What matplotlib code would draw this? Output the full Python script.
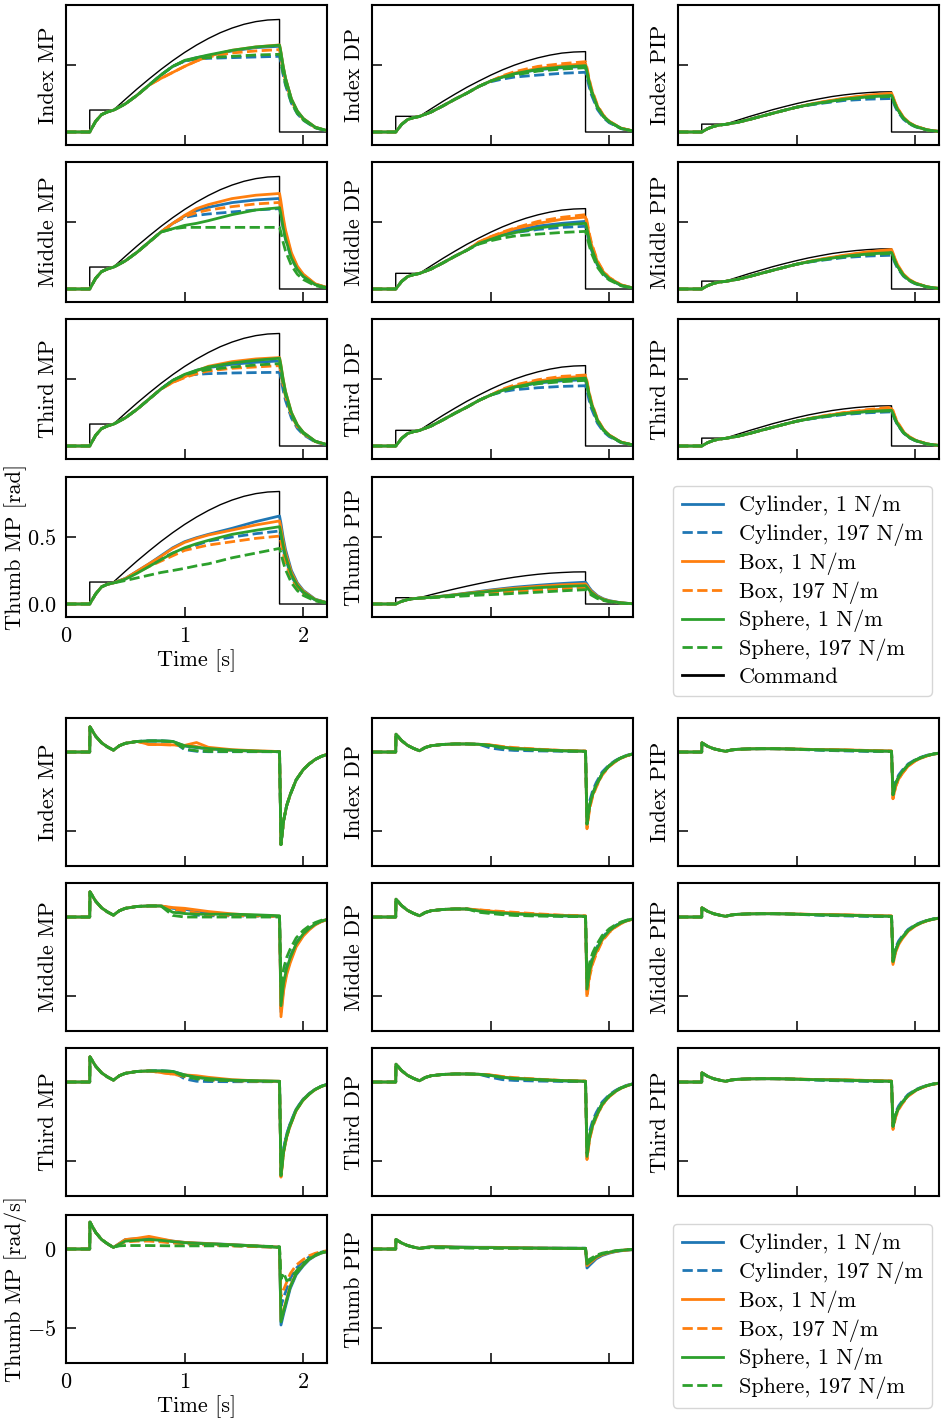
import matplotlib
matplotlib.use("Agg")
import matplotlib.pyplot as plt
from matplotlib.lines import Line2D

plt.rcParams["font.family"] = "serif"
plt.rcParams["font.serif"] = ["cmr10"]
plt.rcParams["mathtext.fontset"] = "cm"
plt.rcParams["axes.formatter.use_mathtext"] = True
plt.rcParams["font.size"] = 16
plt.rcParams["axes.linewidth"] = 1.5

# ---------------------------------------------------------------
# data
series_labels = ["Cylinder, 1 N/m", "Cylinder, 197 N/m", "Box, 1 N/m",
                 "Box, 197 N/m", "Sphere, 1 N/m", "Sphere, 197 N/m"]

# command signal
t_cmd = [0, 0.2, 0.2, 0.4, 0.5, 0.6, 0.7, 0.8, 0.9, 1.0, 1.1, 1.2, 1.3, 1.4, 1.5, 1.6, 1.7, 1.8, 1.8, 2.2]
cmd_mp = [0, 0, .164, .164, .244, .322, .396, .467, .533, .594, .649, .698, .741, .776, .804, .824, .836, .84, 0, 0]
cmd_dp = [0, 0, .117, .117, .174, .230, .283, .334, .380, .424, .464, .499, .529, .554, .574, .589, .597, .60, 0, 0]
cmd_pip = [0, 0, .059, .059, .087, .115, .141, .167, .190, .212, .232, .249, .265, .277, .287, .294, .299, .30, 0, 0]
cmd_thumb_pip = [0, 0, .047, .047, .070, .092, .113, .133, .152, .170, .186, .200, .212, .222, .230, .235, .239, .24, 0, 0]

# joint positions [rad]
t_pos = [0, .2, .25, .3, .35, .4, .5, .6, .7, .8, .9, 1.0, 1.1, 1.2, 1.4, 1.6, 1.8,
         1.81, 1.83, 1.85, 1.9, 1.95, 2.0, 2.1, 2.2]

pre_mp = [0, 0, .08, .13, .15, .163, .21, .275, .35, .425, .49]
pre_dp = [0, 0, .057, .093, .107, .116, .15, .196, .245, .29, .34, .38]
pre_pip = [0, 0, .025, .042, .052, .057, .072, .093, .117, .14, .163, .185]
pre_thumb_mp = [0, 0, .075, .128, .148, .157]
pre_thumb_pip = [0, 0, .02, .033, .04, .044]

pos_index_mp = [
    pre_mp + [.53, .555, .57, .605, .63, .64, .595, .486, .397, .243, .154, .099, .035, .01],
    pre_mp + [.53, .545, .55, .555, .56, .565, .525, .429, .350, .215, .136, .088, .031, .008],
    [0, 0, .08, .13, .15, .163, .21, .275, .35, .40, .445, .49, .53, .565, .61, .635, .65,
     .605, .494, .403, .247, .156, .101, .036, .01],
    [0, 0, .08, .13, .15, .163, .21, .275, .35, .40, .445, .49, .53, .56, .59, .605, .615,
     .572, .467, .381, .234, .148, .095, .034, .009],
    pre_mp + [.535, .555, .575, .61, .635, .648, .603, .492, .402, .246, .156, .100, .036, .01],
    pre_mp + [.53, .55, .555, .565, .575, .58, .539, .441, .360, .220, .139, .090, .032, .009],
]
pos_middle_mp = [
    pre_mp[:10] + [.49, .545, .585, .61, .645, .665, .676, .629, .514, .419, .257, .162, .105, .037, .01],
    pre_mp[:10] + [.49, .535, .55, .56, .575, .59, .60, .558, .456, .372, .228, .144, .093, .033, .009],
    pre_mp[:10] + [.49, .55, .60, .63, .675, .70, .713, .663, .542, .442, .271, .171, .111, .039, .011],
    pre_mp[:10] + [.49, .54, .57, .59, .615, .635, .646, .601, .491, .401, .245, .155, .100, .036, .01],
    pre_mp[:10] + [.45, .475, .49, .51, .555, .59, .607, .565, .461, .376, .231, .146, .094, .033, .009],
    pre_mp[:10] + [.45, .46, .46, .46, .46, .46, .46, .428, .350, .285, .175, .110, .071, .025, .007],
]
pos_third_mp = [
    pre_mp + [.53, .565, .585, .61, .625, .635, .591, .483, .394, .241, .152, .098, .035, .01],
    pre_mp + [.525, .535, .54, .545, .548, .55, .512, .418, .341, .209, .132, .085, .030, .008],
    pre_mp[:10] + [.475, .515, .56, .595, .63, .65, .66, .614, .502, .409, .251, .158, .102, .036, .01],
    pre_mp[:10] + [.475, .51, .54, .56, .58, .59, .60, .558, .456, .372, .228, .144, .093, .033, .009],
    pre_mp + [.535, .565, .59, .62, .64, .655, .609, .498, .406, .249, .157, .102, .036, .01],
    pre_mp + [.53, .555, .57, .59, .605, .615, .572, .467, .381, .234, .148, .095, .034, .009],
]
pos_thumb_mp = [
    pre_thumb_mp + [.19, .245, .30, .36, .42, .465, .495, .52, .565, .615, .657,
                    .611, .499, .407, .250, .158, .102, .036, .01],
    pre_thumb_mp + [.19, .24, .29, .34, .38, .41, .44, .47, .50, .525, .545,
                    .507, .414, .338, .207, .131, .084, .030, .008],
    pre_thumb_mp + [.19, .245, .30, .355, .415, .46, .49, .515, .552, .59, .62,
                    .577, .471, .384, .236, .149, .096, .034, .009],
    pre_thumb_mp + [.185, .235, .28, .32, .36, .40, .42, .44, .465, .49, .507,
                    .472, .385, .314, .193, .122, .079, .028, .008],
    pre_thumb_mp + [.185, .23, .28, .33, .38, .42, .45, .475, .52, .55, .577,
                    .537, .439, .358, .219, .138, .089, .032, .009],
    pre_thumb_mp + [.175, .195, .215, .235, .25, .266, .285, .30, .345, .38, .415,
                    .386, .315, .257, .158, .10, .064, .023, .006],
]
pos_index_dp = [
    pre_dp + [.41, .435, .465, .48, .49, .456, .372, .304, .186, .118, .076, .027, .007],
    pre_dp[:11] + [.375, .395, .41, .425, .438, .446, .415, .339, .277, .169, .107, .069, .025, .007],
    pre_dp + [.415, .44, .475, .495, .51, .474, .388, .316, .194, .122, .079, .028, .008],
    pre_dp + [.42, .45, .49, .51, .525, .488, .399, .326, .20, .126, .081, .029, .008],
    pre_dp + [.41, .435, .468, .485, .495, .460, .376, .307, .188, .119, .077, .027, .007],
    pre_dp + [.405, .425, .455, .47, .48, .446, .365, .298, .182, .115, .074, .026, .007],
]
pos_middle_dp = [
    pre_dp[:10] + [.345, .38, .41, .435, .47, .49, .505, .470, .384, .313, .192, .121, .078, .028, .008],
    pre_dp[:10] + [.345, .375, .40, .42, .445, .46, .468, .435, .356, .290, .178, .112, .073, .026, .007],
    pre_dp[:10] + [.35, .39, .42, .45, .49, .52, .537, .499, .408, .333, .204, .129, .083, .030, .008],
    pre_dp[:10] + [.35, .39, .425, .455, .505, .535, .555, .516, .422, .344, .211, .133, .086, .031, .008],
    pre_dp[:10] + [.34, .37, .40, .42, .455, .478, .49, .456, .372, .304, .186, .118, .076, .027, .007],
    pre_dp[:10] + [.335, .36, .38, .395, .41, .422, .43, .40, .327, .267, .163, .103, .067, .024, .006],
]
pos_third_dp = [
    pre_dp + [.415, .44, .47, .487, .495, .460, .376, .307, .188, .119, .077, .027, .007],
    pre_dp + [.405, .42, .435, .445, .45, .419, .342, .279, .171, .108, .070, .025, .007],
    pre_dp + [.42, .445, .485, .51, .52, .484, .395, .322, .198, .125, .081, .029, .008],
    pre_dp + [.425, .455, .495, .52, .53, .493, .403, .329, .201, .127, .082, .029, .008],
    pre_dp + [.415, .44, .475, .495, .507, .472, .385, .314, .193, .122, .079, .028, .008],
    pre_dp + [.41, .435, .465, .48, .49, .456, .372, .304, .186, .118, .076, .027, .007],
]
pos_index_pip = [
    pre_pip + [.203, .219, .246, .265, .275, .256, .209, .171, .105, .066, .043, .015, .004],
    pre_pip + [.20, .213, .235, .245, .25, .233, .19, .155, .095, .06, .039, .014, .004],
    pre_pip + [.205, .222, .252, .275, .29, .270, .220, .180, .110, .070, .045, .016, .004],
    pre_pip + [.204, .221, .25, .272, .285, .265, .217, .177, .108, .068, .044, .016, .004],
    pre_pip + [.203, .218, .245, .263, .273, .254, .207, .169, .104, .066, .042, .015, .004],
    pre_pip + [.202, .216, .242, .258, .265, .246, .201, .164, .101, .064, .041, .015, .004],
]
pos_middle_pip = [
    pre_pip + [.203, .219, .246, .264, .275, .256, .209, .171, .105, .066, .043, .015, .004],
    pre_pip + [.20, .213, .235, .246, .252, .234, .192, .156, .096, .06, .039, .014, .004],
    pre_pip + [.205, .222, .252, .278, .295, .274, .224, .183, .112, .071, .046, .016, .004],
    pre_pip + [.204, .221, .25, .272, .285, .265, .217, .177, .108, .068, .044, .016, .004],
    pre_pip + [.203, .218, .244, .262, .272, .253, .207, .169, .103, .065, .042, .015, .004],
    pre_pip + [.202, .216, .24, .256, .265, .246, .201, .164, .101, .064, .041, .015, .004],
]
pos_third_pip = [
    pre_pip + [.202, .217, .242, .258, .265, .246, .201, .164, .101, .064, .041, .015, .004],
    pre_pip + [.20, .213, .235, .248, .255, .237, .194, .158, .097, .061, .040, .014, .004],
    pre_pip + [.204, .22, .248, .268, .28, .260, .213, .174, .106, .067, .043, .015, .004],
    pre_pip + [.204, .221, .25, .272, .29, .270, .220, .180, .110, .070, .045, .016, .004],
    pre_pip + [.202, .217, .242, .258, .266, .247, .202, .165, .101, .064, .041, .015, .004],
    pre_pip + [.202, .216, .24, .255, .262, .244, .199, .162, .10, .063, .041, .014, .004],
]
pos_thumb_pip = [
    pre_thumb_pip + [.05, .06, .07, .082, .093, .105, .115, .125, .14, .153, .163,
                     .152, .124, .101, .062, .039, .025, .009, .002],
    pre_thumb_pip + [.049, .056, .063, .07, .077, .084, .09, .096, .107, .116, .125,
                     .116, .095, .078, .048, .03, .019, .007, .002],
    pre_thumb_pip + [.05, .059, .069, .08, .09, .10, .11, .118, .132, .143, .15,
                     .14, .114, .093, .057, .036, .023, .008, .002],
    pre_thumb_pip + [.049, .055, .062, .069, .076, .082, .088, .094, .105, .114, .122,
                     .113, .093, .076, .046, .029, .019, .007, .002],
    pre_thumb_pip + [.05, .058, .067, .077, .086, .095, .103, .11, .122, .131, .137,
                     .127, .104, .085, .052, .033, .021, .008, .002],
    pre_thumb_pip + [.047, .052, .056, .061, .066, .07, .074, .079, .088, .098, .107,
                     .10, .081, .066, .041, .026, .017, .006, .002],
]

# joint velocities [rad/s]
t_vel = [0, .2, .202, .25, .3, .35, .4, .45, .5, .6, .7, .8, .9, 1.0, 1.1, 1.2, 1.4, 1.6, 1.8,
         1.812, 1.835, 1.86, 1.89, 1.94, 2.0, 2.05, 2.1, 2.15, 2.2]

pre_vel_mp = [0, 0, 1.59, 1.0, .58, .32, .12, .40, .55, .67, .70, .70, .67]
pre_vel_dp = [0, 0, 1.13, .72, .42, .23, .08, .29, .40, .48, .51, .51, .49]
pre_vel_pip = [0, 0, .58, .36, .21, .12, .045, .13, .17, .2, .21, .21, .2]
pre_vel_thumb_mp = [0, 0, 1.7, 1.05, .6, .33, .1]
pre_vel_thumb_pip = [0, 0, .6, .38, .22, .12, .04]

vt_63 = [-6.3, -4.63, -3.65, -2.9, -1.89, -1.2, -0.81, -0.5, -0.3, -0.16]
vt_60 = [-6.0, -4.41, -3.48, -2.76, -1.8, -1.14, -0.77, -0.48, -0.29, -0.16]
vt_59 = [-5.9, -4.34, -3.42, -2.71, -1.77, -1.12, -0.76, -0.47, -0.28, -0.15]
vt_585 = [-5.85, -4.30, -3.39, -2.69, -1.76, -1.11, -0.75, -0.47, -0.28, -0.15]
vt_58 = [-5.8, -4.26, -3.36, -2.67, -1.74, -1.1, -0.74, -0.46, -0.28, -0.15]
vt_57 = [-5.7, -4.19, -3.31, -2.62, -1.71, -1.08, -0.73, -0.46, -0.27, -0.15]
vt_56 = [-5.6, -4.12, -3.25, -2.58, -1.68, -1.06, -0.72, -0.45, -0.27, -0.15]
vt_54 = [-5.4, -3.97, -3.13, -2.48, -1.62, -1.03, -0.69, -0.43, -0.26, -0.14]
vt_51 = [-5.1, -3.75, -2.96, -2.35, -1.53, -0.97, -0.65, -0.41, -0.24, -0.13]
vt_49 = [-4.9, -3.6, -2.84, -2.25, -1.47, -0.93, -0.63, -0.39, -0.24, -0.13]
vt_485 = [-4.85, -3.56, -2.81, -2.23, -1.46, -0.92, -0.62, -0.39, -0.23, -0.13]
vt_48 = [-4.8, -3.53, -2.78, -2.21, -1.44, -0.91, -0.61, -0.38, -0.23, -0.12]
vt_47 = [-4.7, -3.45, -2.73, -2.16, -1.41, -0.89, -0.6, -0.38, -0.23, -0.12]
vt_46 = [-4.6, -3.38, -2.67, -2.12, -1.38, -0.87, -0.59, -0.37, -0.22, -0.12]
vt_455 = [-4.55, -3.34, -2.64, -2.09, -1.37, -0.86, -0.58, -0.36, -0.22, -0.12]
vt_45 = [-4.5, -3.31, -2.61, -2.07, -1.35, -0.86, -0.58, -0.36, -0.22, -0.12]
vt_44 = [-4.4, -3.23, -2.55, -2.02, -1.32, -0.84, -0.56, -0.35, -0.21, -0.11]
vt_43 = [-4.3, -3.16, -2.49, -1.98, -1.29, -0.82, -0.55, -0.34, -0.21, -0.11]
vt_42 = [-4.2, -3.09, -2.44, -1.93, -1.26, -0.8, -0.54, -0.34, -0.2, -0.11]
vt_39 = [-3.9, -2.87, -2.26, -1.79, -1.17, -0.74, -0.5, -0.31, -0.19, -0.1]
vt_30 = [-3.0, -2.21, -1.74, -1.38, -0.9, -0.57, -0.38, -0.24, -0.14, -0.08]
vt_295 = [-2.95, -2.17, -1.71, -1.36, -0.89, -0.56, -0.38, -0.24, -0.14, -0.08]
vt_29 = [-2.9, -2.13, -1.68, -1.33, -0.87, -0.55, -0.37, -0.23, -0.14, -0.08]
vt_28 = [-2.8, -2.06, -1.62, -1.29, -0.84, -0.53, -0.36, -0.22, -0.13, -0.07]
vt_27 = [-2.7, -1.98, -1.57, -1.24, -0.81, -0.51, -0.35, -0.22, -0.13, -0.07]
vt_26 = [-2.6, -1.91, -1.51, -1.2, -0.78, -0.49, -0.33, -0.21, -0.12, -0.07]
vt_25 = [-2.5, -1.84, -1.45, -1.15, -0.75, -0.48, -0.32, -0.2, -0.12, -0.07]
vtt_48 = [-4.8, -4.08, -3.36, -2.5, -1.63, -1.06, -0.67, -0.43, -0.26, -0.17]
vtt_46 = [-4.6, -3.91, -3.22, -2.39, -1.56, -1.01, -0.64, -0.41, -0.25, -0.16]
vtt_45 = [-4.5, -3.83, -3.15, -2.34, -1.53, -0.99, -0.63, -0.41, -0.25, -0.16]
vtt_36 = [-3.6, -3.06, -2.52, -1.87, -1.22, -0.79, -0.5, -0.32, -0.2, -0.13]
vtt_30 = [-3.0, -2.55, -2.1, -1.56, -1.02, -0.66, -0.42, -0.27, -0.17, -0.11]
vtt_19 = [-1.9, -1.5, -2.0, -1.9, -1.4, -0.9, -0.6, -0.38, -0.22, -0.12]
vtt_12 = [-1.2, -1.02, -0.84, -0.62, -0.41, -0.26, -0.17, -0.11, -0.07, -0.04]
vtt_105 = [-1.05, -0.89, -0.74, -0.55, -0.36, -0.23, -0.15, -0.09, -0.06, -0.04]
vtt_095 = [-0.95, -0.81, -0.67, -0.49, -0.32, -0.21, -0.13, -0.09, -0.05, -0.03]
vtt_075 = [-0.75, -0.64, -0.53, -0.39, -0.26, -0.17, -0.11, -0.07, -0.04, -0.03]

vel_index_mp = [
    pre_vel_mp + [.38, .28, .2, .11, .05, .02] + vt_585,
    pre_vel_mp + [.15, .05, .02, .02, .02, .02] + vt_585,
    pre_vel_mp[:10] + [.48, .47, .45, .42, .6, .3, .15, .08, .03] + vt_585,
    pre_vel_mp[:10] + [.48, .47, .45, .42, .35, .2, .1, .05, .04] + vt_585,
    pre_vel_mp + [.4, .3, .22, .12, .06, .02] + vt_585,
    pre_vel_mp + [.2, .08, .04, .03, .03, .02] + vt_585,
]
vel_middle_mp = [
    pre_vel_mp[:12] + [.55, .5, .35, .25, .15, .08, .04] + vt_60,
    pre_vel_mp[:12] + [.5, .3, .12, .08, .07, .06, .04] + vt_54,
    pre_vel_mp[:12] + [.6, .55, .45, .35, .2, .1, .05] + vt_63,
    pre_vel_mp[:12] + [.5, .4, .25, .15, .1, .07, .04] + vt_58,
    pre_vel_mp[:12] + [.3, .22, .18, .18, .18, .14, .08] + vt_56,
    pre_vel_mp[:12] + [.1, 0, 0, 0, 0, 0, 0] + vt_44,
]
vel_third_mp = [
    pre_vel_mp + [.45, .3, .2, .1, .06, .04] + vt_57,
    pre_vel_mp + [.2, .05, .03, .02, .02, .02] + vt_57,
    pre_vel_mp[:11] + [.6, .5, .45, .4, .3, .15, .08, .05] + vt_60,
    pre_vel_mp[:11] + [.6, .5, .35, .25, .15, .08, .05, .03] + vt_60,
    pre_vel_mp + [.45, .3, .22, .12, .08, .05] + vt_59,
    pre_vel_mp + [.35, .2, .12, .08, .05, .04] + vt_59,
]
vel_thumb_mp = [
    pre_vel_thumb_mp + [.35, .6, .65, .7, .6, .5, .42, .38, .35, .28, .2, .12] + vtt_48,
    pre_vel_thumb_mp + [.3, .5, .55, .55, .5, .42, .35, .3, .27, .22, .16, .1] + vtt_36,
    pre_vel_thumb_mp + [.35, .6, .68, .8, .65, .5, .42, .38, .34, .27, .2, .12] + vtt_45,
    pre_vel_thumb_mp + [.3, .45, .5, .5, .45, .38, .33, .28, .25, .2, .15, .1] + vtt_30,
    pre_vel_thumb_mp + [.3, .5, .55, .6, .55, .47, .4, .36, .33, .27, .19, .1] + vtt_46,
    pre_vel_thumb_mp + [.2, .22, .22, .22, .21, .2, .2, .2, .2, .2, .19, .15] + vtt_19,
]
vel_index_dp = [
    pre_vel_dp + [.42, .3, .22, .15, .08, .05] + vt_455,
    pre_vel_dp + [.25, .15, .1, .07, .05, .04] + vt_42,
    pre_vel_dp + [.45, .32, .25, .17, .1, .06] + vt_47,
    pre_vel_dp + [.45, .35, .28, .18, .1, .06] + vt_485,
    pre_vel_dp + [.42, .3, .22, .15, .08, .05] + vt_455,
    pre_vel_dp + [.4, .25, .18, .12, .07, .04] + vt_455,
]
vel_middle_dp = [
    pre_vel_dp[:12] + [.42, .35, .28, .22, .14, .08, .05] + vt_46,
    pre_vel_dp[:12] + [.4, .28, .2, .15, .1, .06, .04] + vt_43,
    pre_vel_dp[:12] + [.45, .38, .3, .25, .17, .1, .06] + vt_49,
    pre_vel_dp[:12] + [.45, .4, .35, .3, .2, .12, .08] + vt_51,
    pre_vel_dp[:12] + [.38, .3, .25, .2, .13, .08, .05] + vt_455,
    pre_vel_dp[:12] + [.3, .22, .15, .1, .06, .04, .03] + vt_39,
]
vel_third_dp = [
    pre_vel_dp + [.42, .3, .22, .14, .07, .04] + vt_455,
    pre_vel_dp + [.3, .15, .1, .06, .04, .03] + vt_42,
    pre_vel_dp + [.45, .32, .25, .17, .1, .06] + vt_48,
    pre_vel_dp + [.45, .35, .28, .18, .1, .06] + vt_49,
    pre_vel_dp + [.42, .3, .23, .16, .09, .05] + vt_47,
    pre_vel_dp + [.4, .28, .2, .13, .07, .04] + vt_45,
]
vel_index_pip = [
    pre_vel_pip + [.18, .16, .15, .12, .08, .05] + vt_27,
    pre_vel_pip + [.17, .14, .11, .07, .04, .03] + vt_25,
    pre_vel_pip + [.19, .17, .16, .14, .1, .07] + vt_295,
    pre_vel_pip + [.19, .17, .16, .13, .1, .06] + vt_295,
    pre_vel_pip + [.18, .16, .14, .12, .08, .05] + vt_27,
    pre_vel_pip + [.18, .15, .13, .1, .06, .04] + vt_27,
]
vel_middle_pip = [
    pre_vel_pip + [.18, .16, .15, .12, .08, .05] + vt_28,
    pre_vel_pip + [.17, .14, .11, .07, .04, .03] + vt_26,
    pre_vel_pip + [.19, .17, .16, .14, .1, .07] + vt_30,
    pre_vel_pip + [.19, .17, .16, .13, .1, .06] + vt_29,
    pre_vel_pip + [.18, .16, .14, .12, .08, .05] + vt_28,
    pre_vel_pip + [.18, .15, .13, .1, .06, .04] + vt_28,
]
vel_third_pip = [
    pre_vel_pip + [.18, .16, .15, .12, .08, .05] + vt_28,
    pre_vel_pip + [.17, .14, .11, .07, .04, .03] + vt_26,
    pre_vel_pip + [.19, .17, .16, .14, .1, .07] + vt_29,
    pre_vel_pip + [.19, .17, .16, .13, .1, .06] + vt_30,
    pre_vel_pip + [.18, .16, .14, .12, .08, .05] + vt_28,
    pre_vel_pip + [.18, .15, .13, .1, .06, .04] + vt_28,
]
vel_thumb_pip = [
    pre_vel_thumb_pip + [.1, .15, .15, .13, .12, .11, .11, .1, .09, .07, .06, .05] + vtt_12,
    pre_vel_thumb_pip + [.09, .12, .12, .1, .09, .08, .07, .06, .06, .05, .04, .04] + vtt_095,
    pre_vel_thumb_pip + [.1, .15, .15, .12, .11, .1, .1, .09, .08, .06, .05, .04] + vtt_105,
    pre_vel_thumb_pip + [.09, .12, .12, .1, .09, .08, .07, .06, .06, .05, .04, .04] + vtt_095,
    pre_vel_thumb_pip + [.1, .14, .14, .11, .1, .09, .09, .08, .07, .05, .04, .03] + vtt_095,
    pre_vel_thumb_pip + [.08, .08, .07, .06, .06, .05, .05, .05, .05, .05, .05, .05] + vtt_075,
]

pos_grid = [
    [("Index MP", cmd_mp, pos_index_mp), ("Index DP", cmd_dp, pos_index_dp), ("Index PIP", cmd_pip, pos_index_pip)],
    [("Middle MP", cmd_mp, pos_middle_mp), ("Middle DP", cmd_dp, pos_middle_dp), ("Middle PIP", cmd_pip, pos_middle_pip)],
    [("Third MP", cmd_mp, pos_third_mp), ("Third DP", cmd_dp, pos_third_dp), ("Third PIP", cmd_pip, pos_third_pip)],
    [("Thumb MP", cmd_mp, pos_thumb_mp), ("Thumb PIP", cmd_thumb_pip, pos_thumb_pip)],
]
vel_grid = [
    [("Index MP", vel_index_mp), ("Index DP", vel_index_dp), ("Index PIP", vel_index_pip)],
    [("Middle MP", vel_middle_mp), ("Middle DP", vel_middle_dp), ("Middle PIP", vel_middle_pip)],
    [("Third MP", vel_third_mp), ("Third DP", vel_third_dp), ("Third PIP", vel_third_pip)],
    [("Thumb MP", vel_thumb_mp), ("Thumb PIP", vel_thumb_pip)],
]

# ---------------------------------------------------------------
# styling / layout
colors = ["#1f77b4", "#1f77b4", "#ff7f0e", "#ff7f0e", "#2ca02c", "#2ca02c"]
styles = ["-", "--", "-", "--", "-", "--"]
LW = 2.0

W, H = 944, 1420
col_left = [66, 372, 678]
ax_w = 261
pos_top = [5, 162, 319, 477]
pos_h = 140
vel_top = [718, 883, 1048, 1215]
vel_h = 148

fig = plt.figure(figsize=(W / 100, H / 100), dpi=100)


def make_ax(left, top, h):
    ax = fig.add_axes([left / W, 1 - (top + h) / H, ax_w / W, h / H])
    ax.set_xlim(0, 2.2)
    ax.set_xticks([0, 1, 2])
    ax.tick_params(direction="in", length=7, width=1.1, pad=7, top=False, right=False)
    return ax


# positions
for r, row in enumerate(pos_grid):
    for c, (name, cmd, series) in enumerate(row):
        ax = make_ax(col_left[c], pos_top[r], pos_h)
        ax.plot(t_cmd, cmd, color="k", lw=1.0)
        for s, col, ls in zip(series, colors, styles):
            ax.plot(t_pos, s, color=col, ls=ls, lw=LW)
        ax.set_ylim(-0.097, 0.948)
        ax.set_yticks([0, 0.5])
        if r == 3 and c == 0:
            ax.set_ylabel(name + " [rad]", labelpad=0)
            ax.set_xlabel("Time [s]", labelpad=2)
        else:
            ax.set_ylabel(name, labelpad=6)
            ax.tick_params(labelleft=False, labelbottom=False)

# velocities
for r, row in enumerate(vel_grid):
    for c, (name, series) in enumerate(row):
        ax = make_ax(col_left[c], vel_top[r], vel_h)
        for s, col, ls in zip(series, colors, styles):
            ax.plot(t_vel, s, color=col, ls=ls, lw=LW)
        ax.set_ylim(-7.2, 2.15)
        ax.set_yticks([0, -5])
        if r == 3 and c == 0:
            ax.set_ylabel(name + " [rad/s]", labelpad=0)
            ax.set_xlabel("Time [s]", labelpad=2)
        else:
            ax.set_ylabel(name, labelpad=6)
            ax.tick_params(labelleft=False, labelbottom=False)

handles = [Line2D([], [], color=col, ls=ls, lw=LW) for col, ls in zip(colors, styles)]
cmd_handle = Line2D([], [], color="k", lw=LW)

leg_kw = dict(loc="upper left", fontsize=16, labelspacing=0.28, borderaxespad=0,
              handlelength=1.85, handletextpad=0.72)
fig.legend(handles + [cmd_handle], series_labels + ["Command"],
           bbox_to_anchor=(673 / W, 1 - 486 / H), **leg_kw)
fig.legend(handles, series_labels, bbox_to_anchor=(673 / W, 1 - 1224 / H), **leg_kw)

fig.savefig("out.png", dpi=100)
